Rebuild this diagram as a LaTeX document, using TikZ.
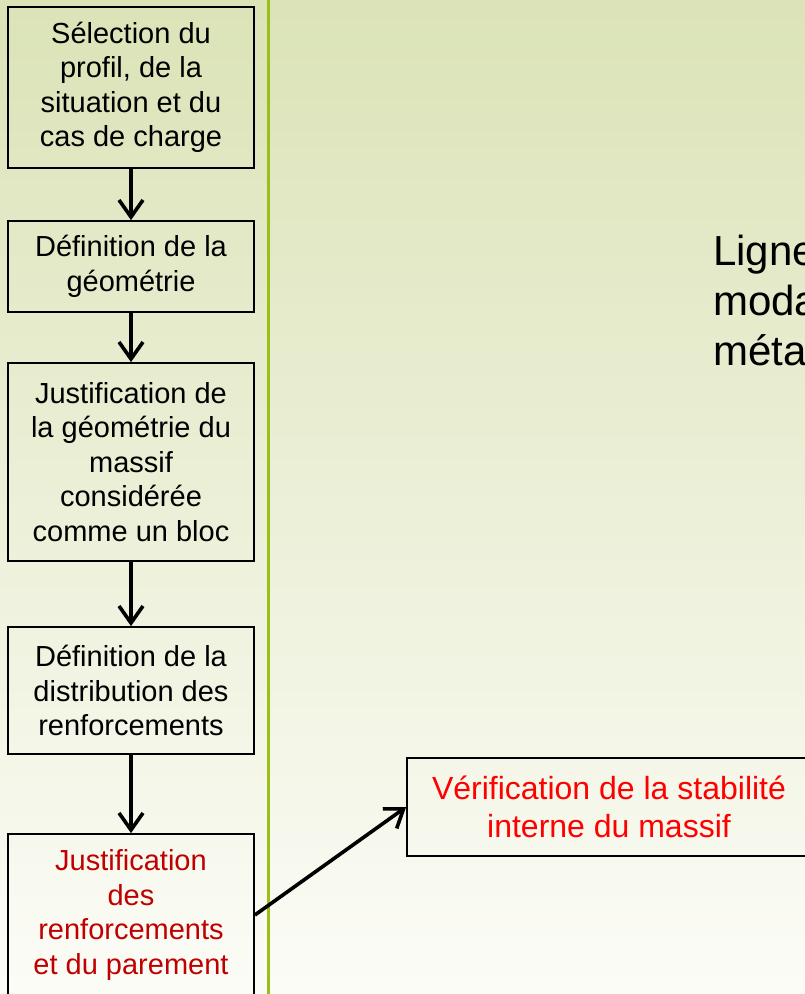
\documentclass[tikz,border=0pt]{standalone}
\usepackage{fontspec}
\setmainfont{Liberation Sans}
\usetikzlibrary{arrows.meta}
\definecolor{bgtop}{RGB}{219,227,183}
\definecolor{bgbot}{RGB}{252,252,247}
\definecolor{divider}{RGB}{155,190,25}
\definecolor{darkred}{RGB}{192,0,0}
\begin{document}
\begin{tikzpicture}[x=1pt,y=-1pt,
  stepbox/.style={draw=black, line width=1.8pt, minimum width=246pt,
    align=center, inner sep=0pt, font=\fontsize{29}{34.5}\selectfont},
  flow/.style={line width=3.6pt,
    -{Straight Barb[length=17pt,width=24pt,line width=3.6pt]}},
  bigtext/.style={anchor=base west, inner sep=0pt, font=\fontsize{42}{50}\selectfont}]
\useasboundingbox (0,0) rectangle (805,994);
\clip (0,0) rectangle (805,994);
% page background
\shade[top color=bgtop, bottom color=bgbot] (0,0) rectangle (805,994);
% vertical divider
\coordinate (divtop) at (268.5,0);
\coordinate (divbot) at (268.5,994);
\draw[divider, line width=2.5pt] (divtop) -- (divbot);

% left-hand chain of steps
\node[stepbox, minimum height=161pt] (s1) at (131,87.5)
  {Sélection du\\profil, de la\\situation et du\\cas de charge};
\node[stepbox, minimum height=91pt] (s2) at (131,266.5)
  {Définition de la\\géométrie};
\node[stepbox, minimum height=198pt] (s3) at (131,462)
  {Justification de\\la géométrie du\\massif\\considérée\\comme un bloc};
\node[stepbox, minimum height=127pt] (s4) at (131,690.5)
  {Définition de la\\distribution des\\renforcements};
\node[stepbox, minimum height=162pt, text=darkred] (s5) at (131,915)
  {Justification\\des\\renforcements\\et du parement};

% internal stability check
\node[stepbox, minimum width=404pt, minimum height=98pt, text=red,
  font=\fontsize{32}{38}\selectfont] (verif) at (609,807)
  {Vérification de la stabilité\\interne du massif};

% heading on the right
\node[bigtext] (l1) at (713,265) {Ligne};
\node[bigtext] (l2) at (713,315) {moda};
\node[bigtext] (l3) at (713,365) {méta};

% connectors
\draw[flow] (s1.south) -- (s2.north);
\draw[flow] (s2.south) -- (s3.north);
\draw[flow] (s3.south) -- (s4.north);
\draw[flow] (s4.south) -- (s5.north);
\draw[flow] (s5.east) -- (verif.west);
\end{tikzpicture}
\end{document}
